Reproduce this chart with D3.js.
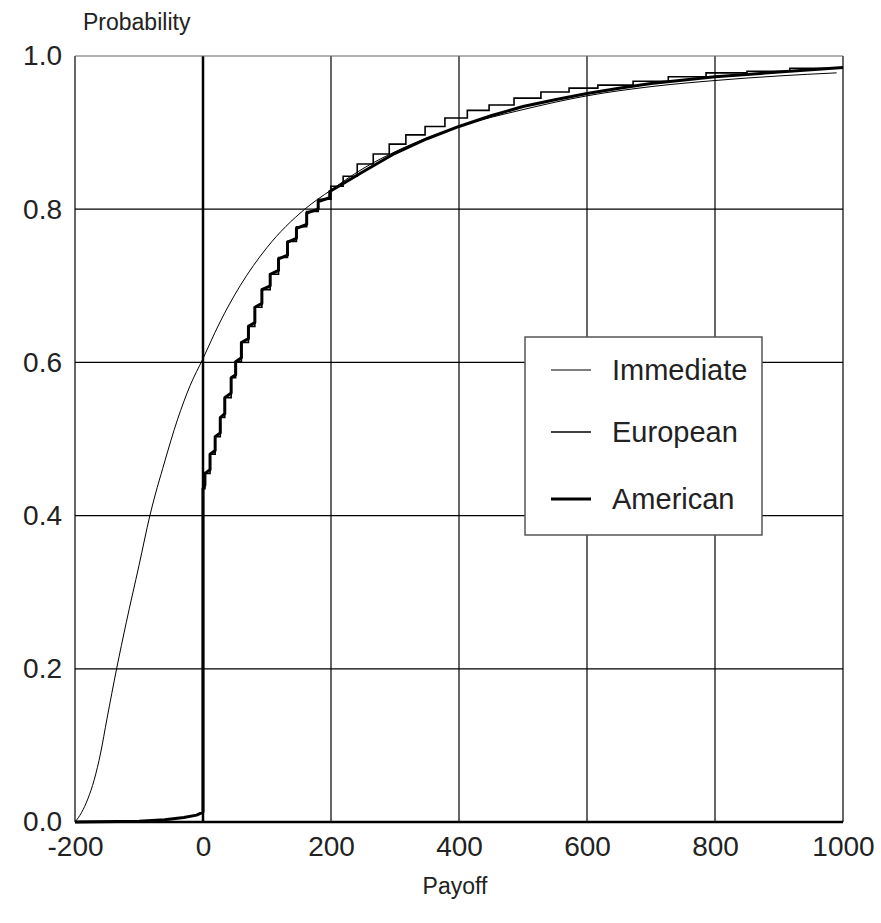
<!DOCTYPE html>
<html>
<head>
<meta charset="utf-8">
<script src="https://cdn.jsdelivr.net/npm/d3@7"></script>
<style>
  body { margin: 0; background: #fff; }
  text { font-family: "Liberation Sans", Arial, sans-serif; fill: #222; }
</style>
</head>
<body>
<svg id="chart" width="881" height="923"></svg>
<script>
// tick labels
let xTicks = [-200, 0, 200, 400, 600, 800, 1000];
let yTicks = [0, 0.2, 0.4, 0.6, 0.8, 1.0];

// Immediate: smooth cdf (payoff, probability)
let immX = [-200, -190, -180, -170, -160, -150, -135, -120, -100, -83, -60, -40, -20, 0, 25, 58, 100, 159, 200, 250, 300, 350, 400, 500, 600, 700, 800, 900, 990];
let immP = [0, 0.012, 0.03, 0.055, 0.09, 0.135, 0.2, 0.26, 0.335, 0.4, 0.47, 0.525, 0.57, 0.605, 0.65, 0.70, 0.75, 0.80, 0.825, 0.853, 0.875, 0.893, 0.908, 0.93, 0.948, 0.96, 0.968, 0.974, 0.978];

// European: step function, level holds from each x until the next
let euroX = [-200, 0, 3, 11, 19, 27, 34, 44, 51, 60, 71, 81, 92, 105, 118, 132, 146, 162, 180, 200, 219, 241, 266, 291, 317, 347, 378, 413, 447, 486, 528, 572, 617, 672, 727, 786, 850, 917, 1000];
let euroP = [0, 0.435, 0.455, 0.48, 0.503, 0.528, 0.554, 0.58, 0.601, 0.626, 0.647, 0.672, 0.695, 0.715, 0.737, 0.758, 0.777, 0.797, 0.813, 0.830, 0.843, 0.859, 0.872, 0.885, 0.897, 0.908, 0.919, 0.929, 0.936, 0.945, 0.953, 0.958, 0.962, 0.967, 0.973, 0.978, 0.980, 0.984, 0.984];

// American: thick line, risers then sloping treads, smoother further right
let amerX = [-200, -100, -60, -30, -10, 0, 0, 3, 3, 11, 11, 19, 19, 27, 27, 34, 34, 44, 44, 51, 51, 60, 60, 71, 71, 81, 81, 92, 92, 105, 105, 118, 118, 132, 132, 146, 146, 162, 162, 180, 180, 198, 198, 216, 250, 300, 350, 400, 450, 500, 550, 600, 650, 700, 800, 900, 1000];
let amerP = [0, 0.001, 0.003, 0.006, 0.009, 0.013, 0.435, 0.44, 0.455, 0.46, 0.48, 0.485, 0.503, 0.508, 0.528, 0.533, 0.554, 0.56, 0.58, 0.584, 0.601, 0.606, 0.626, 0.631, 0.647, 0.652, 0.672, 0.677, 0.695, 0.70, 0.715, 0.72, 0.735, 0.74, 0.757, 0.762, 0.775, 0.78, 0.795, 0.80, 0.81, 0.815, 0.823, 0.832, 0.849, 0.873, 0.892, 0.908, 0.922, 0.934, 0.943, 0.951, 0.958, 0.964, 0.973, 0.979, 0.985];

let seriesNames = ['Immediate', 'European', 'American'];

let margin = { top: 56, right: 38, bottom: 101, left: 75 };
let width = 881 - margin.left - margin.right;
let height = 923 - margin.top - margin.bottom;

let svg = d3.select('#chart');
let g = svg.append('g').attr('transform', `translate(${margin.left},${margin.top})`);

let x = d3.scaleLinear().domain([-200, 1000]).range([0, width]);
let y = d3.scaleLinear().domain([0, 1]).range([height, 0]);

// grid
g.selectAll('.vgrid').data(xTicks).enter().append('line')
    .attr('x1', d => x(d)).attr('x2', d => x(d))
    .attr('y1', 0).attr('y2', height)
    .style('stroke', '#000')
    .style('stroke-width', d => d === 0 ? 2.5 : 1.2);

g.selectAll('.hgrid').data(yTicks).enter().append('line')
    .attr('x1', 0).attr('x2', width)
    .attr('y1', d => y(d)).attr('y2', d => y(d))
    .style('stroke', d => d === 1 ? '#666' : '#000')
    .style('stroke-width', d => d === 0 ? 2.5 : 1.2);

// axes (labels only, no tick marks)
let xAxis = g.append('g')
    .attr('transform', `translate(0,${height})`)
    .call(d3.axisBottom(x).tickValues(xTicks).tickSize(0).tickPadding(14).tickFormat(d => String(d)));
xAxis.select('.domain').remove();
xAxis.selectAll('text').style('font-size', '28px').style('font-family', '"Liberation Sans", Arial, sans-serif').attr('fill', '#222');

let yAxis = g.append('g')
    .call(d3.axisLeft(y).tickValues(yTicks).tickSize(0).tickPadding(13).tickFormat(d3.format('.1f')));
yAxis.select('.domain').remove();
yAxis.selectAll('text').style('font-size', '28px').style('font-family', '"Liberation Sans", Arial, sans-serif').attr('fill', '#222');

svg.append('text')
    .attr('x', 83).attr('y', 30)
    .style('font-size', '23px')
    .text('Probability');

svg.append('text')
    .attr('x', 455).attr('y', 894)
    .attr('text-anchor', 'middle')
    .style('font-size', '23px')
    .text('Payoff');

// curves
let lineStep = d3.line().x(d => x(d[0])).y(d => y(d[1])).curve(d3.curveStepAfter);
let lineLin = d3.line().x(d => x(d[0])).y(d => y(d[1]));
let lineSmooth = d3.line().x(d => x(d[0])).y(d => y(d[1])).curve(d3.curveMonotoneX);

let plot = g.append('g');

plot.append('path')
    .datum(immX.map((v, i) => [v, immP[i]]))
    .attr('d', lineSmooth)
    .style('fill', 'none').style('stroke', '#000').style('stroke-width', 1);

plot.append('path')
    .datum(euroX.map((v, i) => [v, euroP[i]]))
    .attr('d', lineStep)
    .style('fill', 'none').style('stroke', '#000').style('stroke-width', 1.6);

plot.append('path')
    .datum(amerX.map((v, i) => [v, amerP[i]]))
    .attr('d', lineLin)
    .style('fill', 'none').style('stroke', '#000').style('stroke-width', 3)
    .style('stroke-linejoin', 'round');

// legend
let legend = svg.append('g').attr('transform', 'translate(525,337)');
legend.append('rect')
    .attr('width', 237).attr('height', 198)
    .style('fill', '#fff').style('stroke', '#555').style('stroke-width', 1.5);

let widths = [1, 1.6, 3];
let legY = [33, 95, 162];
seriesNames.forEach((name, i) => {
    legend.append('line')
        .attr('x1', 26).attr('x2', 66)
        .attr('y1', legY[i]).attr('y2', legY[i])
        .style('stroke', '#000').style('stroke-width', widths[i]);
    legend.append('text')
        .attr('x', 87).attr('y', legY[i])
        .attr('dy', '0.36em')
        .style('font-size', '29px')
        .text(name);
});
</script>
</body>
</html>
